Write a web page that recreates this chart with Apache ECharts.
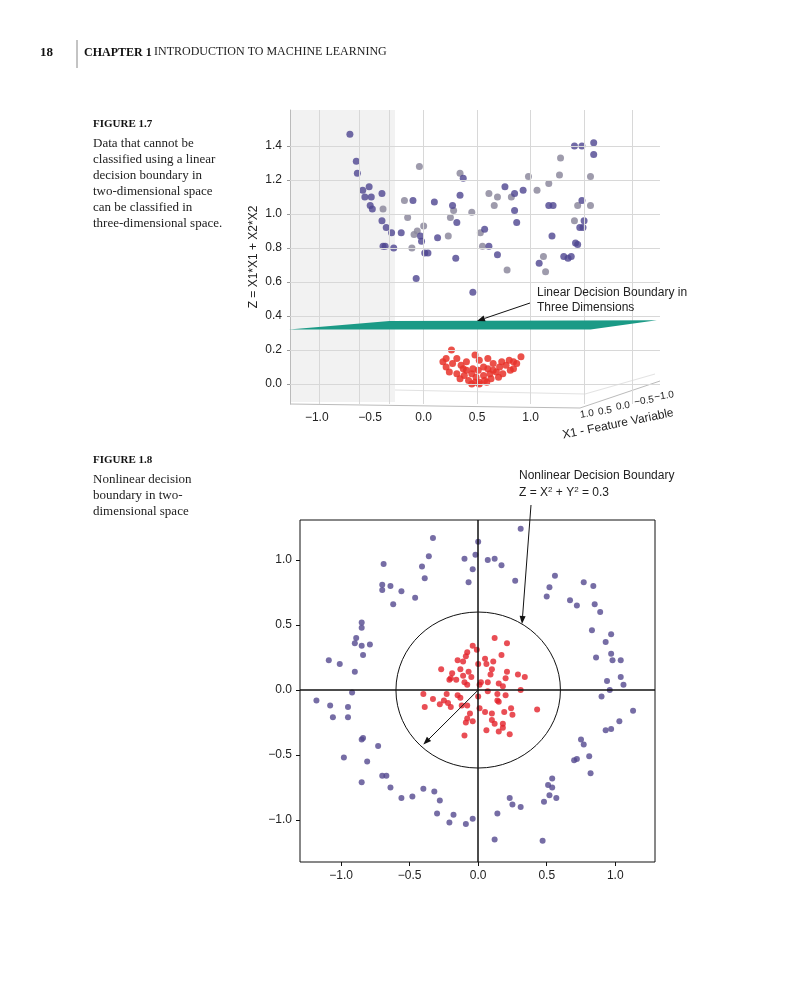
<!DOCTYPE html>
<html lang="en">
<head>
<meta charset="UTF-8">
<title>Figure 1.7 / 1.8</title>
<script src="https://cdn.jsdelivr.net/npm/echarts@6/dist/echarts.min.js"></script>
<style>
  html, body { margin: 0; padding: 0; background: #fff; }
  #main { width: 797px; height: 1000px; }
</style>
</head>
<body>
<div id="main"></div>
<script>
// ---- Figure 1.7 (projected 3D view: [X2 position, Z]) ----
var blue3d = [
  [-0.69,1.47],[-0.63,1.31],[-0.62,1.24],[0.37,1.21],[1.41,1.40],[1.48,1.40],[1.59,1.42],[1.59,1.35],
  [0.93,1.14],[0.85,1.12],[0.76,1.16],[0.34,1.11],[0.27,1.05],[0.31,0.95],[0.10,1.07],[-0.10,1.08],
  [-0.03,0.87],[-0.21,0.89],[-0.30,0.89],[-0.35,0.92],[-0.39,0.96],[-0.39,1.12],[-0.48,1.03],[-0.50,1.05],
  [-0.55,1.10],[-0.57,1.14],[-0.51,1.16],[-0.49,1.10],[-0.38,0.81],[-0.28,0.80],[-0.36,0.81],[0.01,0.77],
  [0.04,0.77],[0.13,0.86],[-0.02,0.84],[-0.07,0.62],[0.30,0.74],[0.46,0.54],[0.57,0.91],[0.61,0.81],
  [0.69,0.76],[0.87,0.95],[0.85,1.02],[1.17,1.05],[1.21,1.05],[1.20,0.87],[1.08,0.71],[1.31,0.75],
  [1.35,0.74],[1.38,0.75],[1.42,0.83],[1.44,0.82],[1.46,0.92],[1.49,0.92],[1.50,0.96],[1.48,1.08]
];
var grey3d = [
  [-0.04,1.28],[0.34,1.24],[0.98,1.22],[1.27,1.23],[1.28,1.33],[1.56,1.22],[1.17,1.18],[1.06,1.14],
  [0.82,1.10],[0.69,1.10],[0.61,1.12],[0.66,1.05],[0.28,1.02],[0.25,0.98],[0.45,1.01],[-0.18,1.08],
  [-0.15,0.98],[0.00,0.93],[-0.06,0.90],[-0.09,0.88],[-0.38,1.03],[-0.11,0.80],[0.23,0.87],[0.53,0.89],
  [0.55,0.81],[0.78,0.67],[1.12,0.75],[1.14,0.66],[1.41,0.96],[1.44,1.05],[1.56,1.05]
];
var red3d = [
  [0.26,0.20],[0.48,0.17],[0.60,0.15],[0.80,0.14],[0.91,0.16],[0.18,0.13],[0.21,0.10],[0.27,0.12],
  [0.35,0.11],[0.52,0.14],[0.65,0.12],[0.71,0.10],[0.77,0.11],[0.84,0.09],[0.24,0.07],[0.31,0.06],
  [0.38,0.05],[0.45,0.06],[0.49,0.04],[0.56,0.05],[0.62,0.06],[0.68,0.07],[0.74,0.06],[0.81,0.08],
  [0.34,0.03],[0.42,0.02],[0.48,0.01],[0.52,0.01],[0.57,0.02],[0.63,0.03],[0.70,0.04],[0.45,0.00],
  [0.52,0.00],[0.59,0.01],[0.40,0.08],[0.46,0.09],[0.56,0.10],[0.65,0.08],[0.21,0.15],[0.31,0.15],
  [0.40,0.13],[0.84,0.13],[0.87,0.12],[0.37,0.09],[0.51,0.08],[0.60,0.09],[0.73,0.13]
];
var zTicks = [0, 0.2, 0.4, 0.6, 0.8, 1.0, 1.2, 1.4];
var x2Ticks = [-1.0, -0.5, 0, 0.5, 1.0];
var x1Labels = ['1.0', '0.5', '0.0', '\u22120.5', '\u22121.0'];
// plane corners in the projected view
var plane = [[-1.26,0.32],[-0.32,0.37],[2.18,0.375],[1.56,0.32]];

// ---- Figure 1.8 ----
var outer2d = [
  [0.31,1.24],[0,1.14],[-0.02,1.04],[-0.10,1.01],[-0.04,0.93],[-0.07,0.83],[0.07,1.0],[0.12,1.01],
  [0.17,0.96],[0.27,0.84],[-0.33,1.17],[-0.36,1.03],[-0.41,0.95],[-0.39,0.86],[-0.46,0.71],[-0.56,0.76],
  [-0.64,0.80],[-0.70,0.81],[-0.70,0.77],[-0.62,0.66],[-0.69,0.97],[-0.85,0.52],[-0.85,0.48],[-0.89,0.40],
  [-0.90,0.36],[-0.85,0.34],[-0.79,0.35],[-0.84,0.27],[-1.09,0.23],[-1.01,0.20],[-0.90,0.14],[-0.92,-0.02],
  [-1.18,-0.08],[-1.08,-0.12],[-1.06,-0.21],[-0.95,-0.13],[-0.95,-0.21],[-0.98,-0.52],[-0.85,-0.38],
  [-0.84,-0.37],[-0.73,-0.43],[-0.81,-0.55],[-0.85,-0.71],[-0.70,-0.66],[-0.67,-0.66],[-0.64,-0.75],
  [-0.56,-0.83],[-0.48,-0.82],[-0.40,-0.76],[-0.32,-0.78],[-0.28,-0.85],[-0.30,-0.95],[-0.21,-1.02],
  [-0.18,-0.96],[-0.09,-1.03],[-0.04,-0.99],[0.12,-1.15],[0.14,-0.95],[0.23,-0.83],[0.25,-0.88],
  [0.31,-0.90],[0.47,-1.16],[0.48,-0.86],[0.51,-0.73],[0.54,-0.68],[0.54,-0.75],[0.52,-0.81],[0.57,-0.83],
  [0.70,-0.54],[0.72,-0.53],[0.75,-0.38],[0.77,-0.42],[0.81,-0.51],[0.82,-0.64],[0.93,-0.31],[0.97,-0.30],
  [1.03,-0.24],[1.13,-0.16],[0.90,-0.05],[0.96,0.0],[0.94,0.07],[1.06,0.04],[1.04,0.10],[1.04,0.23],
  [0.98,0.23],[0.97,0.28],[0.86,0.25],[0.93,0.37],[0.97,0.43],[0.83,0.46],[0.89,0.60],[0.85,0.66],
  [0.72,0.65],[0.67,0.69],[0.77,0.83],[0.84,0.80],[0.50,0.72],[0.52,0.79],[0.56,0.88]
];
var inner2d = [
  [0.12,0.40],[0.21,0.36],[-0.04,0.34],[-0.08,0.29],[-0.09,0.26],[-0.01,0.31],[0.05,0.24],[0.11,0.22],
  [0.17,0.27],[-0.15,0.23],[-0.11,0.22],[0,0.20],[0.06,0.20],[0.10,0.16],[0.09,0.12],[-0.27,0.16],
  [-0.19,0.13],[-0.13,0.16],[-0.07,0.14],[0.21,0.14],[0.29,0.12],[0.34,0.10],[-0.21,0.08],[-0.16,0.08],
  [-0.11,0.11],[-0.05,0.10],[0.20,0.09],[0.02,0.06],[0.07,0.06],[0.15,0.05],[-0.08,0.04],[0.01,0.04],
  [0.18,0.03],[0.31,0.0],[0.07,-0.01],[-0.40,-0.03],[-0.23,-0.03],[-0.15,-0.04],[-0.13,-0.06],[0.14,-0.03],
  [0.20,-0.04],[0,-0.05],[-0.33,-0.07],[-0.25,-0.08],[0.14,-0.08],[0.15,-0.09],[-0.28,-0.11],[-0.20,-0.13],
  [-0.12,-0.12],[-0.08,-0.12],[-0.39,-0.13],[0.01,-0.14],[0.24,-0.14],[0.43,-0.15],[0.05,-0.17],[0.10,-0.18],
  [-0.06,-0.18],[0.19,-0.17],[0.25,-0.19],[-0.08,-0.22],[-0.04,-0.24],[-0.09,-0.25],[0.10,-0.23],[0.12,-0.26],
  [0.18,-0.26],[0.18,-0.29],[0.06,-0.31],[0.15,-0.32],[0.23,-0.34],[-0.10,-0.35],[-0.20,0.09],[-0.10,0.06],
  [-0.22,-0.10]
];
var axTicks2d = [-1.0, -0.5, 0, 0.5, 1.0];
var boundaryRadius = 0.6;
var radiusArrowEnd = [-0.40, -0.42];

function fmt(v) {
  var s = v.toFixed(1);
  return v < 0 ? '\u2212' + s.slice(1) : s;
}

var sansFont = 'Liberation Sans, Arial, sans-serif';
var serifFont = 'Liberation Serif, serif';
var chart = echarts.init(document.getElementById('main'));

var option = {
  animation: false,
  backgroundColor: '#fff',
  grid: [
    {left: 290, right: 137, top: 110, bottom: 596, show: false},
    {left: 300, right: 142, top: 520, bottom: 138, show: true, borderColor: '#111', borderWidth: 1}
  ],
  xAxis: [
    {
      gridIndex: 0, type: 'value', min: -1.25, max: 2.21,
      axisLine: {show: false, onZero: false}, axisTick: {show: false},
      axisLabel: {customValues: x2Ticks, formatter: fmt, color: '#222', fontSize: 12, fontFamily: sansFont, margin: 8},
      splitLine: {show: false}
    },
    {
      gridIndex: 1, type: 'value', min: -1.30, max: 1.29,
      axisLine: {show: false, onZero: false},
      axisTick: {show: true, customValues: axTicks2d, length: 4, inside: false, lineStyle: {color: '#111'}},
      axisLabel: {customValues: axTicks2d, formatter: fmt, color: '#222', fontSize: 12, fontFamily: sansFont, margin: 8},
      splitLine: {show: false}
    }
  ],
  yAxis: [
    {
      gridIndex: 0, type: 'value', min: -0.118, max: 1.612,
      name: 'Z = X1*X1 + X2*X2', nameLocation: 'middle', nameGap: 30,
      nameTextStyle: {color: '#222', fontSize: 12, fontFamily: sansFont},
      axisLine: {show: true, onZero: false, lineStyle: {color: '#bbb'}},
      axisTick: {show: true, customValues: zTicks, length: 3, lineStyle: {color: '#999'}},
      axisLabel: {customValues: zTicks, formatter: fmt, color: '#222', fontSize: 12, fontFamily: sansFont, margin: 8},
      splitLine: {show: false}
    },
    {
      gridIndex: 1, type: 'value', min: -1.323, max: 1.308,
      axisLine: {show: false, onZero: false},
      axisTick: {show: true, customValues: axTicks2d, length: 4, lineStyle: {color: '#111'}},
      axisLabel: {customValues: axTicks2d, formatter: fmt, color: '#222', fontSize: 12, fontFamily: sansFont, margin: 8},
      splitLine: {show: false}
    }
  ],
  series: [
    {
      // 3D box grid lines (back wall and left wall)
      type: 'line', xAxisIndex: 0, yAxisIndex: 0, data: [], silent: true,
      markLine: {
        silent: true, symbol: 'none', label: {show: false},
        lineStyle: {color: '#d8d8d8', type: 'solid', width: 1},
        data: zTicks.map(function (z) { return {yAxis: z}; })
          .concat([-0.98, -0.6, -0.32, 0.0, 0.5, 1.0, 1.5, 1.95].map(function (x) { return {xAxis: x}; }))
      }
    },
    {
      type: 'scatter', xAxisIndex: 0, yAxisIndex: 0, data: grey3d, symbolSize: 7, z: 3,
      itemStyle: {color: '#8d8a9e', opacity: 0.85}
    },
    {
      type: 'scatter', xAxisIndex: 0, yAxisIndex: 0, data: red3d, symbolSize: 7, z: 3,
      itemStyle: {color: '#e8332a', opacity: 0.85}
    },
    {
      type: 'scatter', xAxisIndex: 0, yAxisIndex: 0, data: blue3d, symbolSize: 7, z: 4,
      itemStyle: {color: '#4e4590'}
    },
    {
      type: 'scatter', xAxisIndex: 1, yAxisIndex: 1, data: outer2d, symbolSize: 6, z: 4,
      itemStyle: {color: '#54498f'},
      markLine: {
        silent: true, symbol: 'none', label: {show: false},
        lineStyle: {color: '#111', type: 'solid', width: 1.5},
        data: [{xAxis: 0}, {yAxis: 0}]
      }
    },
    {
      type: 'scatter', xAxisIndex: 1, yAxisIndex: 1, data: inner2d, symbolSize: 6, z: 4,
      itemStyle: {color: '#e4222b'}
    }
  ]
};
chart.setOption(option);

function px(gi, p) {
  return chart.convertToPixel({gridIndex: gi}, p);
}
function arrow(from, to) {
  var dx = to[0] - from[0], dy = to[1] - from[1];
  var len = Math.sqrt(dx * dx + dy * dy), ux = dx / len, uy = dy / len;
  var b = [to[0] - ux * 8, to[1] - uy * 8];
  return [
    {type: 'line', shape: {x1: from[0], y1: from[1], x2: b[0], y2: b[1]}, style: {stroke: '#111', lineWidth: 1}, z: 20},
    {type: 'polygon', shape: {points: [to, [b[0] - uy * 3, b[1] + ux * 3], [b[0] + uy * 3, b[1] - ux * 3]]},
      style: {fill: '#111'}, z: 20}
  ];
}

var c0 = px(1, [0, 0]);
var cr = px(1, [boundaryRadius, boundaryRadius]);
var planePts = plane.map(function (p) { return px(0, p); });
var caption = {fill: '#222', font: '13px ' + serifFont};

var graphic = [
  // page header
  {type: 'text', left: 40, top: 46, style: {text: '18', fill: '#111', font: 'bold 13px ' + serifFont}},
  {type: 'line', shape: {x1: 77, y1: 40, x2: 77, y2: 68}, style: {stroke: '#888', lineWidth: 1}},
  {type: 'text', left: 84, top: 47, style: {text: 'CHAPTER 1', fill: '#111', font: 'bold 12px ' + serifFont}},
  {type: 'text', left: 154, top: 46, style: {text: 'INTRODUCTION TO MACHINE LEARNING', fill: '#222', font: '12px ' + serifFont}},
  // captions
  {type: 'text', left: 93, top: 119, style: {text: 'FIGURE 1.7', fill: '#111', font: 'bold 11px ' + serifFont}},
  {type: 'text', left: 93, top: 136, style: {text: 'Data that cannot be\nclassified using a linear\ndecision boundary in\ntwo-dimensional space\ncan be classified in\nthree-dimensional space.', lineHeight: 16, fill: caption.fill, font: caption.font}},
  {type: 'text', left: 93, top: 455, style: {text: 'FIGURE 1.8', fill: '#111', font: 'bold 11px ' + serifFont}},
  {type: 'text', left: 93, top: 472, style: {text: 'Nonlinear decision\nboundary in two-\ndimensional space', lineHeight: 16, fill: caption.fill, font: caption.font}},
  // 3D left wall shading and floor
  {type: 'rect', shape: {x: 291, y: 110, width: 104, height: 292}, style: {fill: '#f2f2f2'}, z: -1},
  {type: 'polyline', shape: {points: [[290, 404], [580, 408], [660, 381]]}, style: {stroke: '#bbb', lineWidth: 1, fill: null}, z: 2},
  {type: 'polyline', shape: {points: [[395, 390], [585, 394], [655, 374]]}, style: {stroke: '#e2e2e2', lineWidth: 1, fill: null}, z: 2},
  // decision plane
  {type: 'polygon', shape: {points: planePts}, style: {fill: '#1b9a86'}, z: 10},
  {type: 'text', left: 537, top: 285, style: {text: 'Linear Decision Boundary in\nThree Dimensions', lineHeight: 15, fill: '#222', font: '12px ' + sansFont}, z: 20},
  // X1 axis title
  {type: 'text', x: 618, y: 424, rotation: 0.2, style: {text: 'X1 - Feature Variable', fill: '#222', font: '12px ' + sansFont, align: 'center', verticalAlign: 'middle'}},
  // 2D boundary circle
  {type: 'ellipse', shape: {cx: c0[0], cy: c0[1], rx: cr[0] - c0[0], ry: c0[1] - cr[1]}, style: {stroke: '#111', lineWidth: 1, fill: null}, z: 15},
  {type: 'text', left: 519, top: 470, style: {text: 'Nonlinear Decision Boundary', fill: '#222', font: '12px ' + sansFont}},
  {type: 'text', left: 519, top: 486, style: {rich: {s: {fontSize: 8, verticalAlign: 'top', padding: [0, 0, 6, 0]}}, text: 'Z = X{s|2} + Y{s|2} = 0.3', fill: '#222', font: '12px ' + sansFont}}
];
var x1Pos = [[587, 414], [605, 411], [623, 406], [644, 401], [664, 396]];
x1Labels.forEach(function (t, i) {
  graphic.push({type: 'text', x: x1Pos[i][0], y: x1Pos[i][1], rotation: 0.15,
    style: {text: t, fill: '#222', font: '10px ' + sansFont, align: 'center', verticalAlign: 'middle'}});
});
graphic = graphic.concat(arrow([530, 303], [477, 321]));
graphic = graphic.concat(arrow([531, 505], [522, 624]));
graphic = graphic.concat(arrow(c0, px(1, radiusArrowEnd)));

chart.setOption({graphic: graphic});
</script>
</body>
</html>
